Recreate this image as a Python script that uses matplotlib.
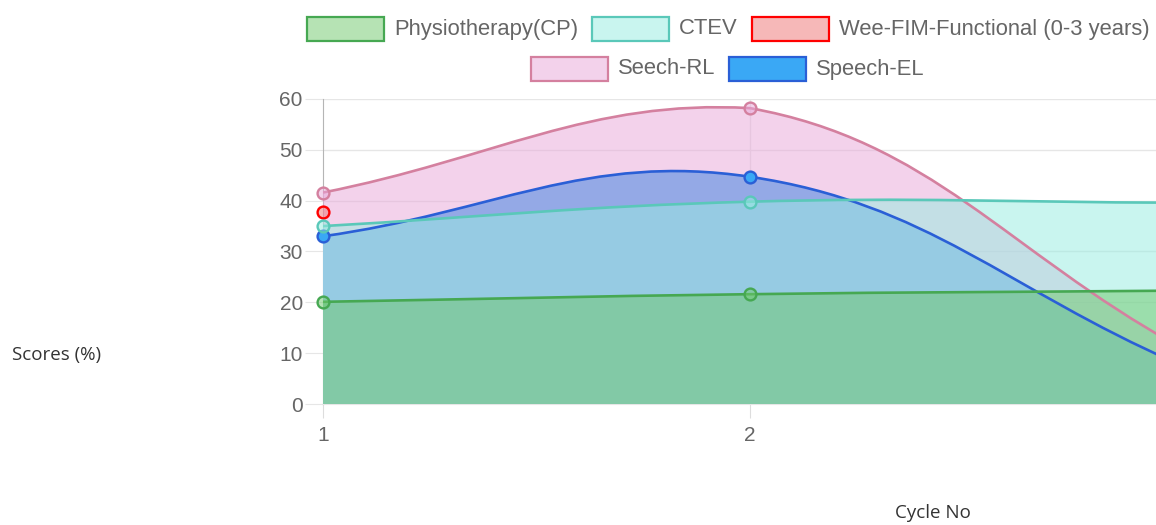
import numpy as np
import matplotlib
matplotlib.use("Agg")
import matplotlib.pyplot as plt
from matplotlib.path import Path
from matplotlib.patches import PathPatch, Rectangle

# values
cycles = [1, 2, 3]
physio = [20.1, 21.6, 22.3]
ctev = [35.0, 39.8, 39.6]
wee_fim = [37.7]
seech_rl = [41.6, 58.2, 11.5]
speech_el = [33.0, 44.7, 8.0]

names = ["Physiotherapy(CP)", "CTEV", "Wee-FIM-Functional (0-3 years)", "Seech-RL", "Speech-EL"]

def rgba(r, g, b, a=1.0):
    return (r / 255, g / 255, b / 255, a)

fills = [rgba(111, 201, 107, 0.5), rgba(152, 236, 225, 0.52), rgba(239, 115, 115, 0.5),
         rgba(232, 170, 218, 0.52), rgba(58, 168, 245, 1.0)]
borders = ["#46a852", "#5ac8b9", "#ff0000", "#d4809f", "#2a5fd6"]
series = [physio, ctev, wee_fim, seech_rl, speech_el]

W, H = 1156, 525
fig = plt.figure(figsize=(W / 100, H / 100), dpi=100)
ax = fig.add_axes([323 / W, 1 - 404 / H, (1177 - 323) / W, (404 - 99) / H])
ax.set_xlim(1, 3)
ax.set_ylim(0, 60)


def spline(xs, ys, tension=0.4):
    # chart.js style bezier, computed in pixel space, control points capped to the area
    pts = ax.transData.transform(np.column_stack([xs, ys]))
    bb = ax.bbox
    n = len(pts)
    cp, cn = [], []
    for i in range(n):
        prev, cur, nxt = pts[max(i - 1, 0)], pts[i], pts[min(i + 1, n - 1)]
        d01 = np.hypot(*(cur - prev))
        d12 = np.hypot(*(nxt - cur))
        tot = d01 + d12
        fa = tension * (d01 / tot if tot else 0)
        fb = tension * (d12 / tot if tot else 0)
        for c, f in ((cp, -fa), (cn, fb)):
            q = cur + f * (nxt - prev)
            q[0] = min(max(q[0], bb.x0), bb.x1)
            q[1] = min(max(q[1], bb.y0), bb.y1)
            c.append(q)
    verts = [pts[0]]
    for i in range(n - 1):
        verts += [cn[i], cp[i + 1], pts[i + 1]]
    return ax.transData.inverted().transform(np.array(verts))


ax.set_axisbelow(True)
for z, (ys, fc) in enumerate(zip(series, fills)):
    if len(ys) < 2:
        continue
    xs = cycles[:len(ys)]
    v = spline(xs, ys)
    fv = np.vstack([v, [[xs[-1], 0], [xs[0], 0], [xs[0], ys[0]]]])
    codes = [Path.MOVETO] + [Path.CURVE4] * (len(v) - 1) + [Path.LINETO] * 3
    ax.add_patch(PathPatch(Path(fv, codes), facecolor=fc, edgecolor="none", zorder=10 - z))

for z, (ys, ec, fc) in enumerate(zip(series, borders, fills)):
    xs = cycles[:len(ys)]
    if len(ys) > 1:
        v = spline(xs, ys)
        codes = [Path.MOVETO] + [Path.CURVE4] * (len(v) - 1)
        ax.add_patch(PathPatch(Path(v, codes), facecolor="none", edgecolor=ec, lw=1.9, zorder=20 - z))
    ax.plot(xs, ys, ls="none", marker="o", ms=8.5, mfc=fc, mec=ec, mew=1.7, zorder=30 - z, clip_on=False)

# axes styling (tick 3 sits past the right edge of the picture)
ax.set_yticks(range(0, 61, 10))
ax.set_xticks([1, 2])
ax.yaxis.grid(True, color="#e6e6e6", lw=1)
ax.axvline(2, color="#e6e6e6", lw=1, zorder=0)
for s in ["top", "right"]:
    ax.spines[s].set_visible(False)
ax.spines["left"].set_color("#b5b5b5")
ax.spines["bottom"].set_color("#e6e6e6")
ax.tick_params(axis="y", length=13, color="#e6e6e6", pad=1.5, labelsize=15, labelcolor="#666666")
ax.tick_params(axis="x", length=10, color="#dddddd", pad=6, labelsize=15, labelcolor="#666666")
ax.xaxis.get_major_ticks()[0].tick1line.set_color("#b5b5b5")
for t in ax.get_xticklabels() + ax.get_yticklabels():
    t.set_fontfamily("Liberation Sans")

fig.text(12 / W, 1 - 355 / H, "Scores (%)", fontsize=13.5, family="Open Sans", color="#333333",
         ha="left", va="center")
fig.text(895 / W, 1 - 513 / H, "Cycle No", fontsize=13.5, family="Open Sans", color="#333333",
         ha="left", va="center")

# legend, laid out in two centred rows like the original
renderer = fig.canvas.get_renderer()
box_w, box_h, gap_txt, gap_item = 77, 24, 10, 14
rows = [([0, 1, 2], 29), ([3, 4], 69)]
center = 728
for idx, yc in rows:
    texts = []
    for i in idx:
        t = fig.text(0, 1 - yc / H, names[i], fontsize=15.8, family="Liberation Sans",
                     color="#666666", ha="left", va="center")
        texts.append(t)
    widths = [t.get_window_extent(renderer).width for t in texts]
    total = sum(box_w + gap_txt + w for w in widths) + gap_item * (len(idx) - 1)
    x = center - total / 2
    for i, t, w in zip(idx, texts, widths):
        fig.patches.append(Rectangle((x / W, 1 - (yc + box_h / 2) / H), box_w / W, box_h / H,
                                     transform=fig.transFigure, facecolor=fills[i],
                                     edgecolor=borders[i], lw=1.6))
        t.set_x((x + box_w + gap_txt) / W)
        x += box_w + gap_txt + w + gap_item

fig.savefig("out.png", dpi=100)
